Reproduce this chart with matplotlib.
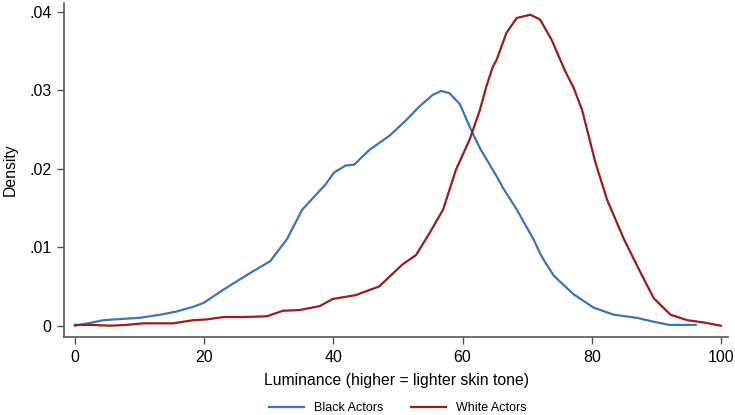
import numpy as np
import matplotlib
matplotlib.use("Agg")
import matplotlib.pyplot as plt
from matplotlib.ticker import FuncFormatter

plt.rcParams["font.family"] = ["Liberation Sans", "DejaVu Sans"]

# ---- kernel density curves ----
black_x = [0, 2, 4.4, 7, 10, 13.2, 15.7, 18.3, 19.9, 23, 27.1, 30.2, 31.6, 32.8,
           35.2, 38.8, 40.1, 41.9, 43.2, 45.6, 48.7, 51.3, 53.3, 55.4, 56.7, 58,
           59.6, 61.4, 62.7, 65.3, 66.3, 68.4, 69.4, 71, 72, 73, 74.1, 75.1, 77.2,
           80.3, 83.4, 87, 89.6, 92, 96.1]
black_y = [0, 0.0003, 0.0007, 0.00085, 0.001, 0.0014, 0.0018, 0.0024, 0.0029,
           0.0046, 0.0067, 0.0082, 0.0097, 0.011, 0.0148, 0.018, 0.0195, 0.0204,
           0.0205, 0.0224, 0.0242, 0.0262, 0.0279, 0.0294, 0.0299, 0.0296, 0.0282,
           0.0248, 0.0226, 0.019, 0.0175, 0.0148, 0.0133, 0.011, 0.0092, 0.0078,
           0.0064, 0.0056, 0.004, 0.0023, 0.0014, 0.001, 0.0005, 0.0001, 0.0001]

white_x = [0, 2.5, 5.4, 8, 10.6, 15.2, 18.3, 20.4, 23, 26, 29.7, 32.2, 34.8, 37.9,
           39.9, 43.5, 47.1, 50.7, 52.8, 54.9, 57, 59, 61.1, 62.7, 63.7, 64.7,
           65.3, 66.8, 68.4, 70.5, 72, 73.8, 75.9, 77.2, 78.5, 80.6, 82.4, 85,
           87.6, 89.6, 92.2, 94.8, 97.4, 100]
white_y = [0.0001, 0.0001, 0.0, 0.0001, 0.0003, 0.0003, 0.0007, 0.0008, 0.0011,
           0.0011, 0.0012, 0.0019, 0.002, 0.0025, 0.0034, 0.0039, 0.005, 0.0078,
           0.009, 0.0118, 0.0148, 0.0199, 0.0237, 0.0275, 0.0305, 0.033, 0.0339,
           0.0373, 0.0392, 0.0396, 0.039, 0.0364, 0.0324, 0.0303, 0.0275, 0.0207,
           0.016, 0.011, 0.0067, 0.0035, 0.0014, 0.0007, 0.0004, 0.0]

x_ticks = [0, 20, 40, 60, 80, 100]
y_ticks = [0, 0.01, 0.02, 0.03, 0.04]

BLUE = "#3b74b9"
RED = "#9c1b1b"
AXC = "#555555"

W, H = 735, 415
fig = plt.figure(figsize=(W / 100, H / 100), dpi=100)
ax = fig.add_axes([64 / W, (H - 337) / H, (728 - 64) / W, (337 - 3) / H])

ax.plot(black_x, black_y, color=BLUE, lw=1.6, label="Black Actors",
        solid_joinstyle="round")
ax.plot(white_x, white_y, color=RED, lw=1.6, label="White Actors",
        solid_joinstyle="round")

ax.set_xlim(-1.7, 101.1)
ax.set_ylim(-0.00144, 0.0411)
ax.set_xticks(x_ticks)
ax.set_yticks(y_ticks)
ax.yaxis.set_major_formatter(FuncFormatter(
    lambda v, p: "0" if abs(v) < 1e-9 else f"{v:.2f}".lstrip("0")))

for s in ["top", "right"]:
    ax.spines[s].set_visible(False)
for s in ["left", "bottom"]:
    ax.spines[s].set_color(AXC)
    ax.spines[s].set_linewidth(1.2)
ax.tick_params(direction="out", length=5, width=1.0, color=AXC,
               labelsize=11.5, labelcolor="black", pad=4)

ax.set_xlabel("Luminance (higher = lighter skin tone)", fontsize=11.3, labelpad=6)
ax.set_ylabel("Density", fontsize=11.3, labelpad=8)

fig.legend(*ax.get_legend_handles_labels(), loc="center",
           bbox_to_anchor=(398 / W, 1 - 408 / H), ncol=2, frameon=False,
           fontsize=9, handlelength=2.8, columnspacing=2.2, handletextpad=0.8,
           borderpad=0.1)

fig.savefig("out.png", dpi=100, facecolor="white")
